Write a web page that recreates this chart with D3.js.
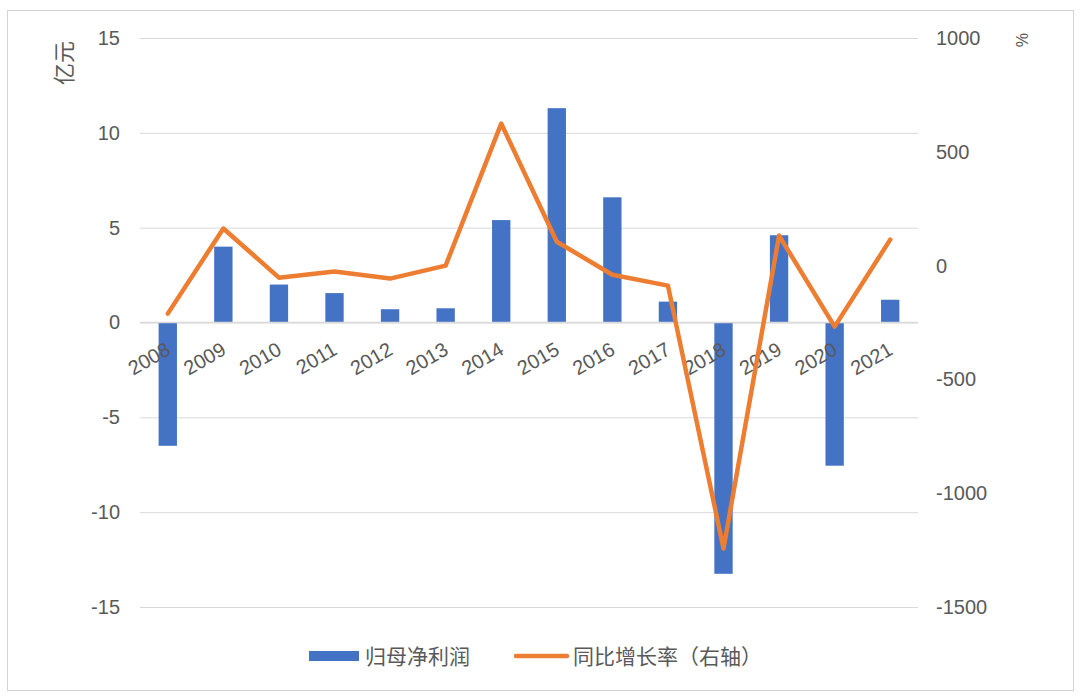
<!DOCTYPE html>
<html><head><meta charset="utf-8">
<script src="https://cdn.jsdelivr.net/npm/d3@7"></script>
<style>body{margin:0;background:#fff;} text{font-family:"Liberation Sans","Noto Sans CJK SC",sans-serif;}</style>
</head><body>
<svg id="c" width="1080" height="699"></svg>
<script>
const years = ["2008","2009","2010","2011","2012","2013","2014","2015","2016","2017","2018","2019","2020","2021"];
const profit = [-6.5, 4.0, 2.0, 1.55, 0.7, 0.75, 5.4, 11.3, 6.6, 1.1, -13.25, 4.6, -7.55, 1.2];
const growth = [-211, 163, -53, -26, -57, 0, 624, 105, -40, -88, -1243, 132, -268, 114];
const leftTicks = [-15, -10, -5, 0, 5, 10, 15];
const rightTicks = [-1500, -1000, -500, 0, 500, 1000];
const seriesNames = ["归母净利润", "同比增长率（右轴）"];

(function () {
const svg = d3.select("#c");
const pL = 140, pR = 918, pT = 38, pB = 607;
const txt = "#595959", grid = "#d9d9d9";
const fontCN = '"Noto Sans CJK SC",sans-serif';
const fmt = d => String(d);

svg.append("rect").attr("x", 7.5).attr("y", 10.5).attr("width", 1066).attr("height", 680)
  .attr("fill", "#fff").attr("stroke", "#d4d4d4").attr("stroke-width", 1);

const x = d3.scaleBand().domain(years).range([pL, pR]).paddingInner(0.67).paddingOuter(0.335);
const yL = d3.scaleLinear().domain([-15, 15]).range([pB, pT]);
const yR = d3.scaleLinear().domain([-1500, 1000]).range([pB, pT]);

const gL = svg.append("g").attr("transform", `translate(${pL},0)`)
  .call(d3.axisLeft(yL).tickValues(leftTicks).tickSize(-(pR - pL)).tickPadding(20).tickFormat(fmt));
gL.select(".domain").remove();
gL.selectAll(".tick line").attr("stroke", grid).attr("stroke-width", 1);
gL.selectAll(".tick text").attr("fill", txt).attr("font-size", 20).attr("x", -20);

const gR = svg.append("g").attr("transform", `translate(${pR},0)`)
  .call(d3.axisRight(yR).tickValues(rightTicks).tickSize(0).tickPadding(18).tickFormat(fmt));
gR.select(".domain").remove();
gR.selectAll(".tick text").attr("fill", txt).attr("font-size", 20);

svg.append("g").selectAll("rect").data(years).join("rect")
  .attr("x", d => x(d))
  .attr("width", x.bandwidth())
  .attr("y", (d, i) => Math.min(yL(profit[i]), yL(0)))
  .attr("height", (d, i) => Math.abs(yL(profit[i]) - yL(0)))
  .attr("fill", "#4472C4");

svg.append("line").attr("x1", pL).attr("x2", pR).attr("y1", yL(0)).attr("y2", yL(0))
  .attr("stroke", "#d9d9d9").attr("stroke-width", 1.5);

svg.append("g").selectAll("text").data(years).join("text")
  .attr("transform", d => `translate(${x(d) + x.bandwidth() / 2 + 4},${yL(0) + 31}) rotate(-30)`)
  .attr("text-anchor", "end").attr("fill", txt).attr("font-size", 20)
  .text(d => d);

const line = d3.line().x((d, i) => x(years[i]) + x.bandwidth() / 2).y(d => yR(d));
svg.append("path").datum(growth).attr("d", line).attr("fill", "none")
  .attr("stroke", "#ED7D31").attr("stroke-width", 4.5).attr("stroke-linejoin", "round").attr("stroke-linecap", "round");

svg.append("text").attr("transform", `translate(72,63) rotate(-90)`).attr("text-anchor", "middle")
  .attr("fill", txt).attr("font-size", 22).attr("font-family", fontCN).text("亿元");
svg.append("text").attr("transform", `translate(1016,40) rotate(90)`).attr("text-anchor", "middle")
  .attr("fill", txt).attr("font-size", 16).text("%");

const ly = 656;
svg.append("rect").attr("x", 309).attr("y", ly - 5).attr("width", 50).attr("height", 10).attr("fill", "#4472C4");
svg.append("text").attr("x", 365).attr("y", ly + 8).attr("fill", txt).attr("font-size", 21)
  .attr("font-family", fontCN).text(seriesNames[0]);
svg.append("line").attr("x1", 516).attr("x2", 567).attr("y1", ly).attr("y2", ly)
  .attr("stroke", "#ED7D31").attr("stroke-width", 4.5).attr("stroke-linecap", "round");
svg.append("text").attr("x", 573).attr("y", ly + 8).attr("fill", txt).attr("font-size", 21)
  .attr("font-family", fontCN).text(seriesNames[1]);
})();
</script>
</body></html>
